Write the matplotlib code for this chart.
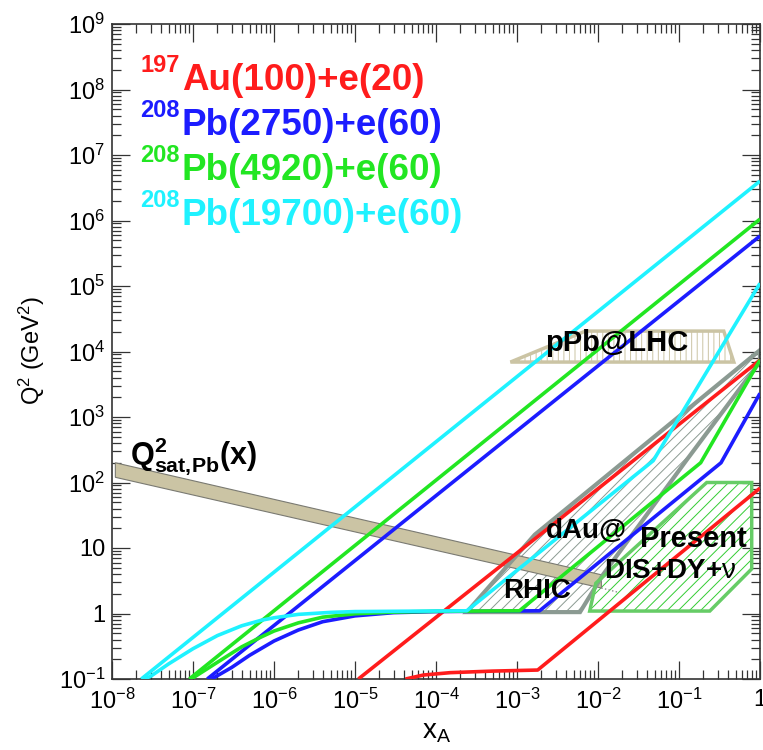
import numpy as np
import matplotlib
matplotlib.use("Agg")
import matplotlib.pyplot as plt
from matplotlib.patches import Polygon
from matplotlib.ticker import FixedLocator, FixedFormatter, LogLocator, NullFormatter

plt.rcParams['font.family'] = ['Liberation Sans', 'DejaVu Sans']
plt.rcParams['mathtext.fontset'] = 'custom'
plt.rcParams['mathtext.rm'] = 'Liberation Sans'
plt.rcParams['mathtext.it'] = 'Liberation Sans:italic'
plt.rcParams['mathtext.bf'] = 'Liberation Sans:bold'
plt.rcParams['hatch.linewidth'] = 0.7

# --- kinematic limits (x_A, Q^2) ---
red_up_x = [1.1e-5, 1.0]
red_up_q = [0.1, 7.4e3]
red_lo_x = [4.2e-5, 7e-5, 1.5e-4, 5e-4, 1.8e-3, 1.0]
red_lo_q = [0.1, 0.115, 0.125, 0.132, 0.137, 82]

blue_up_x = [1.5e-7, 1.0]
blue_up_q = [0.1, 5.8e5]
blue_lo_x = [1.7e-7, 3e-7, 5e-7, 1e-6, 2e-6, 4e-6, 1e-5, 3e-5, 1e-4, 1.9e-3, 0.33, 1.0]
blue_lo_q = [0.1, 0.15, 0.23, 0.38, 0.56, 0.75, 0.92, 1.03, 1.07, 1.1, 200, 2.3e3]

green_up_x = [9e-8, 1.0]
green_up_q = [0.1, 1.05e6]
green_lo_x = [9.5e-8, 2e-7, 4e-7, 7e-7, 1e-6, 2e-6, 4e-6, 1e-5, 3e-5, 1e-4, 1.07e-3, 0.185, 1.0]
green_lo_q = [0.1, 0.18, 0.31, 0.44, 0.54, 0.72, 0.88, 0.99, 1.05, 1.08, 1.1, 200, 7.4e3]

cyan_up_x = [2.3e-8, 1.0]
cyan_up_q = [0.1, 4.0e6]
cyan_lo_x = [2.5e-8, 3e-8, 5e-8, 1e-7, 2e-7, 4e-7, 7e-7, 1e-6, 2e-6, 5e-6, 1e-5,
             2.4e-4, 0.048, 1.0]
cyan_lo_q = [0.1, 0.11, 0.17, 0.29, 0.46, 0.65, 0.79, 0.86, 0.97, 1.04, 1.07,
             1.1, 215, 1.1e5]

# --- regions ---
qsat_x = [1.1e-8, 1.1e-8, 1.1e-2, 1.1e-2]
qsat_q = [120, 200, 3.9, 2.45]
qsat_tail_x = [1.1e-2, 1.8e-2]
qsat_tail_q = [2.45, 2.1]

pPb_x = [8.3e-4, 7.0e-3, 0.357, 0.475]
pPb_q = [6.9e3, 2.05e4, 2.05e4, 6.9e3]

dAu_x = [2.4e-4, 6.0e-3, 1.15e-2, 0.124, 1.0, 1.0, 1.66e-3]
dAu_q = [1.05, 1.05, 3.9, 220, 7.0e3, 1.05e4, 16]

dis_x = [7.9e-3, 0.24, 0.79, 0.79, 0.22, 9.4e-3]
dis_q = [1.09, 1.09, 4.8, 100, 100, 2.9]

xticks = [1e-8, 1e-7, 1e-6, 1e-5, 1e-4, 1e-3, 1e-2, 1e-1, 1]
xtick_labels = ['$10^{-8}$', '$10^{-7}$', '$10^{-6}$', '$10^{-5}$', '$10^{-4}$',
                '$10^{-3}$', '$10^{-2}$', '$10^{-1}$', '1']
yticks = [1e-1, 1, 10, 1e2, 1e3, 1e4, 1e5, 1e6, 1e7, 1e8, 1e9]
ytick_labels = ['$10^{-1}$', '1', '10', '$10^{2}$', '$10^{3}$', '$10^{4}$',
                '$10^{5}$', '$10^{6}$', '$10^{7}$', '$10^{8}$', '$10^{9}$']

legend_mass = ['197', '208', '208', '208']
legend_text = ['Au(100)+e(20)', 'Pb(2750)+e(60)', 'Pb(4920)+e(60)', 'Pb(19700)+e(60)']

RED = '#ff1c1c'
BLUE = '#1c1cff'
GREEN = '#22e622'
CYAN = '#1ff2ff'
TAN = '#cbc4a4'
GRAY = '#8b9a92'
LGREEN = '#66cc66'

fig = plt.figure(figsize=(7.63, 7.5), dpi=100)
ax = fig.add_axes([112 / 763, 1 - 679 / 750, 648 / 763, 655 / 750])
ax.set_xscale('log')
ax.set_yscale('log')
ax.set_xlim(1e-8, 1)
ax.set_ylim(0.1, 1e9)

# hatched regions (hatch and outline drawn separately)
ax.add_patch(Polygon(list(zip(dAu_x, dAu_q)), closed=True, facecolor='none',
                     edgecolor=GRAY, lw=0, hatch='///', zorder=1))
ax.add_patch(Polygon(list(zip(dis_x, dis_q)), closed=True, facecolor='none',
                     edgecolor='#33cc33', lw=0, hatch='///', zorder=1))
ax.add_patch(Polygon(list(zip(pPb_x, pPb_q)), closed=True, facecolor='none',
                     edgecolor=TAN, lw=0, hatch='|||', zorder=1))

ax.add_patch(Polygon(list(zip(qsat_x, qsat_q)), closed=True, facecolor=TAN,
                     edgecolor='#7a7a72', lw=0.8, zorder=2))
ax.plot(qsat_tail_x, qsat_tail_q, ls=':', color='#8a8a8a', lw=1, zorder=2)

ax.add_patch(Polygon(list(zip(dAu_x, dAu_q)), closed=True, facecolor='none',
                     edgecolor=GRAY, lw=3, joinstyle='miter', zorder=2.5))
ax.add_patch(Polygon(list(zip(dis_x, dis_q)), closed=True, facecolor='none',
                     edgecolor=LGREEN, lw=2.5, zorder=2.5))
ax.add_patch(Polygon(list(zip(pPb_x, pPb_q)), closed=True, facecolor='none',
                     edgecolor=TAN, lw=2.5, zorder=2.5))

lw = 2.6
for xs, qs, c in [(red_up_x, red_up_q, RED), (red_lo_x, red_lo_q, RED),
                  (blue_up_x, blue_up_q, BLUE), (blue_lo_x, blue_lo_q, BLUE),
                  (green_up_x, green_up_q, GREEN), (green_lo_x, green_lo_q, GREEN),
                  (cyan_up_x, cyan_up_q, CYAN), (cyan_lo_x, cyan_lo_q, CYAN)]:
    ax.plot(xs, qs, color=c, lw=lw, solid_capstyle='butt', zorder=3)

# labels inside plot
ax.text(0.017, 1.35e4, 'pPb@LHC', fontsize=21, fontweight='bold', ha='center',
        va='center', zorder=5)
ax.text(1.65e-8, 190, r'$\mathbf{Q^2_{sat,\!Pb}(x)}$', fontsize=22, ha='left',
        va='baseline', zorder=5)
ax.text(7.1e-3, 14.2, 'dAu@', fontsize=20, fontweight='bold', ha='center',
        va='baseline', zorder=5)
ax.text(1.77e-3, 1.73, 'RHIC', fontsize=20, fontweight='bold', ha='center',
        va='baseline', zorder=5)
ax.text(0.149, 10.4, 'Present', fontsize=21, fontweight='bold', ha='center',
        va='baseline', zorder=5)
ax.text(0.0774, 3.5, r'DIS+DY+$\mathrm{\nu}$', fontsize=20, fontweight='bold',
        ha='center', va='baseline', zorder=5)

# legend text block
for i, (m, t, c) in enumerate(zip(legend_mass, legend_text, [RED, BLUE, GREEN, CYAN])):
    yb = 1 - (90 + 45 * i) / 750
    fig.text(182 / 763, yb, t, color=c, fontsize=26.5, fontweight='bold', va='baseline')
    fig.text(180 / 763, yb + 18 / 750, m, color=c, fontsize=17, fontweight='bold',
             ha='right', va='baseline')

# axes styling
ax.xaxis.set_major_locator(FixedLocator(xticks))
ax.xaxis.set_major_formatter(FixedFormatter(xtick_labels))
ax.yaxis.set_major_locator(FixedLocator(yticks))
ax.yaxis.set_major_formatter(FixedFormatter(ytick_labels))
ax.xaxis.set_minor_locator(LogLocator(base=10, subs=np.arange(2, 10), numticks=20))
ax.yaxis.set_minor_locator(LogLocator(base=10, subs=np.arange(2, 10), numticks=20))
ax.xaxis.set_minor_formatter(NullFormatter())
ax.yaxis.set_minor_formatter(NullFormatter())
ax.tick_params(which='both', direction='in', top=True, right=True, color='#333333',
               width=0.9, labelsize=17)
ax.tick_params(which='major', length=13)
ax.tick_params(which='minor', length=6.5)
ax.tick_params(axis='x', pad=7)
ax.tick_params(axis='y', pad=5)
for s in ax.spines.values():
    s.set_linewidth(1.2)
    s.set_color('#333333')

fig.text(32 / 763, 1 - 351 / 750, r'Q$^2$ (GeV$^2$)', rotation=90, fontsize=17,
         ha='center', va='center')
fig.text(437 / 763, 1 - 732 / 750, r'x$_\mathregular{A}$', fontsize=20,
         ha='center', va='center')

fig.savefig('out.png', dpi=100)
